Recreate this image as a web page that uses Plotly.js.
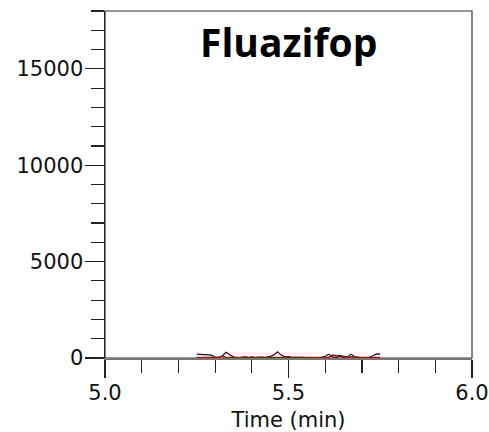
<!DOCTYPE html>
<html>
<head>
<meta charset="utf-8">
<script src="https://cdn.plot.ly/plotly-3.0.1.min.js"></script>
<style>
  html, body { margin: 0; padding: 0; background: #fff; }
  #chart { width: 489px; height: 432px; }
</style>
</head>
<body>
<div id="chart"></div>
<script>
// Retention time (min)
const timeMin = [
  5.25, 5.26, 5.27, 5.28, 5.29, 5.30, 5.31, 5.32, 5.33, 5.34,
  5.35, 5.36, 5.37, 5.38, 5.39, 5.40, 5.41, 5.42, 5.43, 5.44,
  5.45, 5.46, 5.47, 5.48, 5.49, 5.50, 5.51, 5.52, 5.53, 5.54,
  5.55, 5.56, 5.57, 5.58, 5.59, 5.60, 5.61, 5.62, 5.63, 5.64,
  5.65, 5.66, 5.67, 5.68, 5.69, 5.70, 5.71, 5.72, 5.73, 5.74,
  5.75
];

// Quantifier transition (black)
const signalBlack = [
  200, 190, 160, 170, 150, 40, 30, 120, 300, 170,
  60, 0, 20, 60, 40, 30, 20, 50, 30, 40,
  80, 160, 320, 150, 60, 70, 30, 40, 20, 30,
  10, 20, 40, 30, 30, 90, 200, 60, 30, 100,
  50, 40, 200, 60, 20, 0, 10, 40, 120, 210,
  200
];

// Qualifier transition (red)
const signalRed = [
  20, 20, 20, 20, 30, 30, 40, 90, 30, 20,
  20, 20, 30, 20, 20, 60, 20, 20, 10, 20,
  20, 20, 20, 20, 20, 20, 20, 10, 20, 20,
  20, 20, 20, 20, 20, 20, 40, 150, 120, 130,
  80, 40, 60, 40, 20, 20, 20, 20, 20, 30,
  20
];

const xTickVals = [5.0, 5.5, 6.0];
const xTickText = ['5.0', '5.5', '6.0'];
const yTickVals = [0, 5000, 10000, 15000];
const yTickText = ['0', '5000', '10000', '15000'];

const compound = 'Fluazifop';

const tickFont = { family: 'DejaVu Sans, Arial, sans-serif', size: 21, color: '#111' };

const traces = [
  {
    x: timeMin, y: signalBlack, type: 'scatter', mode: 'lines',
    line: { color: '#111111', width: 1.2 }, hoverinfo: 'skip'
  },
  {
    x: timeMin, y: signalRed, type: 'scatter', mode: 'lines',
    line: { color: '#a01010', width: 1.5 }, hoverinfo: 'skip'
  }
];

const layout = {
  width: 489, height: 432,
  margin: { l: 105, r: 17, t: 11, b: 74, pad: 0 },
  paper_bgcolor: '#fff', plot_bgcolor: '#fff',
  showlegend: false,
  xaxis: {
    range: [5.0, 6.0],
    tickmode: 'array', tickvals: xTickVals, ticktext: xTickText,
    ticks: 'outside', ticklen: 18, tickwidth: 1.2, tickcolor: '#222',
    minor: { dtick: 0.1, ticks: 'outside', ticklen: 13, tickwidth: 1.2, tickcolor: '#222', showgrid: false },
    showgrid: false, zeroline: false,
    showline: true, linecolor: '#777', linewidth: 2,
    tickfont: tickFont,
    ticklabelstandoff: -3,
    title: { text: 'Time (min)', font: tickFont, standoff: 14 }
  },
  yaxis: {
    range: [0, 18000],
    tickmode: 'array', tickvals: yTickVals, ticktext: yTickText,
    ticks: 'outside', ticklen: 19, tickwidth: 1.2, tickcolor: '#222',
    minor: { dtick: 1000, ticks: 'outside', ticklen: 13, tickwidth: 1.2, tickcolor: '#222', showgrid: false },
    showgrid: false, zeroline: false,
    showline: true, linecolor: '#222', linewidth: 1.5,
    tickfont: tickFont,
    ticklabelstandoff: -3
  },
  shapes: [
    {
      type: 'rect', xref: 'paper', yref: 'paper', x0: 0, x1: 1, y0: 0, y1: 1,
      line: { color: '#333', width: 1.2 }, layer: 'below'
    }
  ],
  annotations: [
    {
      text: '<b>' + compound + '</b>',
      xref: 'paper', yref: 'paper', x: 0.5, y: 1, xanchor: 'center', yanchor: 'top',
      yshift: -2, showarrow: false,
      font: { family: 'Open Sans, Noto Sans, sans-serif', size: 39, color: '#000' }
    }
  ]
};

Plotly.newPlot('chart', traces, layout, { displayModeBar: false, staticPlot: true });
</script>
</body>
</html>
